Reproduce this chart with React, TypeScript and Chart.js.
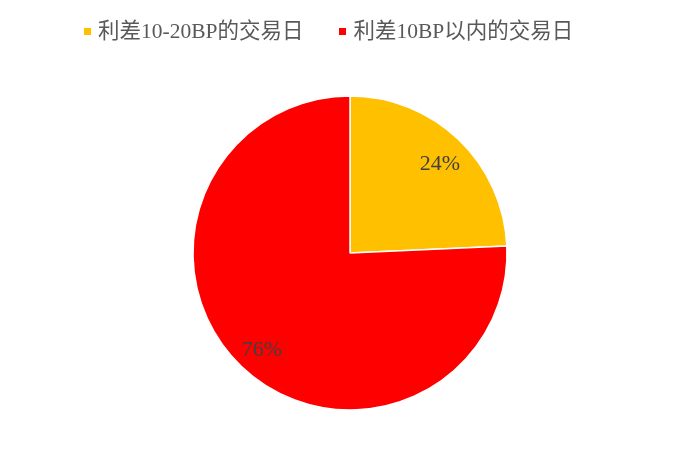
import { useEffect, useRef } from "react";
import { Chart, registerables } from "chart.js";

Chart.register(...registerables);

const categories = ["利差10-20BP的交易日", "利差10BP以内的交易日"];
const shares = [24.3, 75.7];
const shareLabels = ["24%", "76%"];
const sliceColors = ["#FFC000", "#FF0000"];

const LEGEND_FONT = "'Liberation Serif', 'Noto Sans CJK SC', serif";

// draws the percentage text inside each slice
const sliceLabels = {
  id: "sliceLabels",
  afterDatasetsDraw(chart: Chart) {
    const ctx = chart.ctx;
    const meta = chart.getDatasetMeta(0);
    ctx.save();
    ctx.font = "22px 'Liberation Serif', serif";
    ctx.fillStyle = "#404040";
    ctx.textAlign = "center";
    ctx.textBaseline = "middle";
    meta.data.forEach((arc: any, i: number) => {
      const { x, y, startAngle, endAngle, outerRadius } = arc.getProps(
        ["x", "y", "startAngle", "endAngle", "outerRadius"],
        true
      );
      const mid = (startAngle + endAngle) / 2;
      const r = outerRadius * 0.82;
      ctx.fillText(shareLabels[i], x + Math.cos(mid) * r + 1, y + Math.sin(mid) * r + 4);
    });
    ctx.restore();
  },
};

const PieChart = () => {
  const canvasRef = useRef<HTMLCanvasElement>(null);
  const chartRef = useRef<Chart | null>(null);

  useEffect(() => {
    if (!canvasRef.current) return;
    if (chartRef.current) chartRef.current.destroy();

    chartRef.current = new Chart(canvasRef.current, {
      type: "pie",
      data: {
        labels: categories,
        datasets: [
          {
            data: shares,
            backgroundColor: sliceColors,
            borderColor: "#FFFFFF",
            borderWidth: 1.5,
            radius: 157,
          },
        ],
      },
      options: {
        responsive: false,
        animation: false,
        layout: { padding: { top: 47, bottom: 0 } },
        plugins: {
          legend: { display: false },
          tooltip: { enabled: false },
        },
      },
      plugins: [sliceLabels],
    });

    return () => {
      if (chartRef.current) {
        chartRef.current.destroy();
        chartRef.current = null;
      }
    };
  }, []);

  return (
    <div style={{ position: "absolute", left: 0, top: 0, width: 700, height: 459, background: "#fff" }}>
      <canvas ref={canvasRef} width={700} height={459}></canvas>
      <div
        style={{
          position: "absolute",
          left: 84,
          top: 19,
          display: "flex",
          alignItems: "center",
          font: `21.5px ${LEGEND_FONT}`,
          color: "#595959",
          lineHeight: "24px",
          whiteSpace: "nowrap",
        }}
      >
        {categories.map((c, i) => (
          <div key={c} style={{ display: "flex", alignItems: "center", marginLeft: i === 0 ? 0 : 36 }}>
            <span style={{ display: "inline-block", width: 7, height: 7, background: sliceColors[i], marginRight: 7 }} />
            <span>{c}</span>
          </div>
        ))}
      </div>
    </div>
  );
};

export default function App() {
  return <PieChart />;
}
